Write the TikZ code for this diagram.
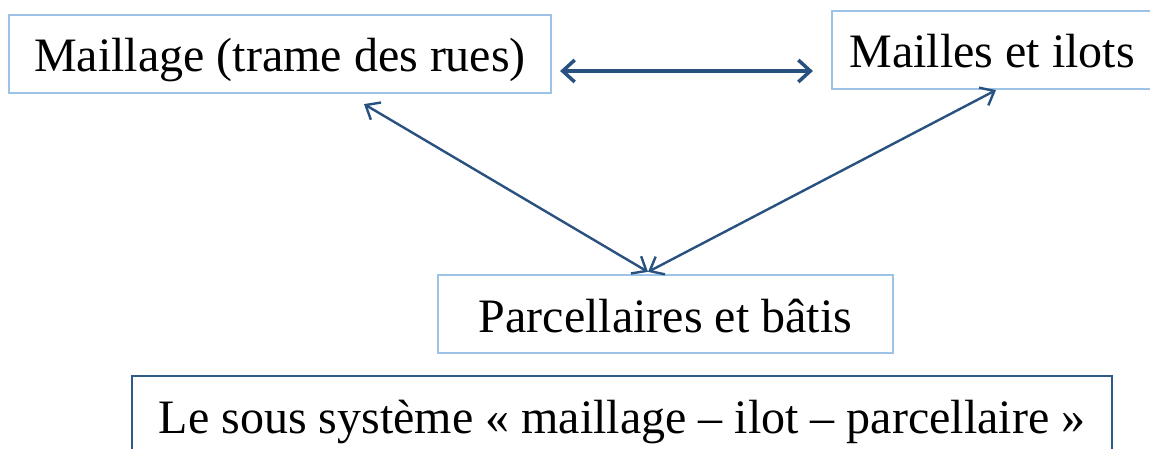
\documentclass[tikz,border=0pt]{standalone}
\usepackage{fontspec}
\setmainfont{Liberation Serif}
\usetikzlibrary{arrows.meta}
\definecolor{boxblue}{HTML}{9DC3E6}
\definecolor{darkblue}{HTML}{2F5A88}
\definecolor{arrowblue}{HTML}{28517F}
\tikzset{
  lbox/.style={draw=boxblue, line width=2.2pt, inner sep=0pt, text height=36pt, text depth=0pt,
    minimum height=78pt, font=\fontsize{48}{58}\selectfont},
  dbox/.style={lbox, draw=darkblue, line width=2.6pt},
  thickarrow/.style={arrowblue, line width=3.5pt, {Straight Barb[length=12pt,width=22pt]}-{Straight Barb[length=12pt,width=22pt]}},
  thinarrow/.style={arrowblue, line width=2.4pt, {Straight Barb[length=12pt,width=20pt]}-{Straight Barb[length=12pt,width=20pt]}}
}
\begin{document}
\begin{tikzpicture}[x=1pt,y=-1pt]
\useasboundingbox (0,0) rectangle (1150,449);
\node[lbox, minimum width=542pt] (b1) at (280,54) {Maillage (trame des rues)};
\node[lbox, minimum width=320pt] (b2) at (992,50) {Mailles et ilots};
\node[lbox, minimum width=455pt] (b3) at (665.5,314) {Parcellaires et bâtis};
\node[dbox, minimum width=980pt] (b4) at (622,415) {Le sous système «~maillage – ilot – parcellaire~»};
\draw[thickarrow] ([xshift=8pt,yshift=-17pt]b1.east) -- ([xshift=-18pt,yshift=-21pt]b2.west);
\draw[thinarrow] ([xshift=84pt,yshift=-10pt]b1.south) -- ([xshift=-17.5pt,yshift=2pt]b3.north);
\draw[thinarrow] ([xshift=-17.5pt,yshift=2pt]b3.north) -- ([xshift=4pt,yshift=0pt]b2.south);
\end{tikzpicture}
\end{document}
